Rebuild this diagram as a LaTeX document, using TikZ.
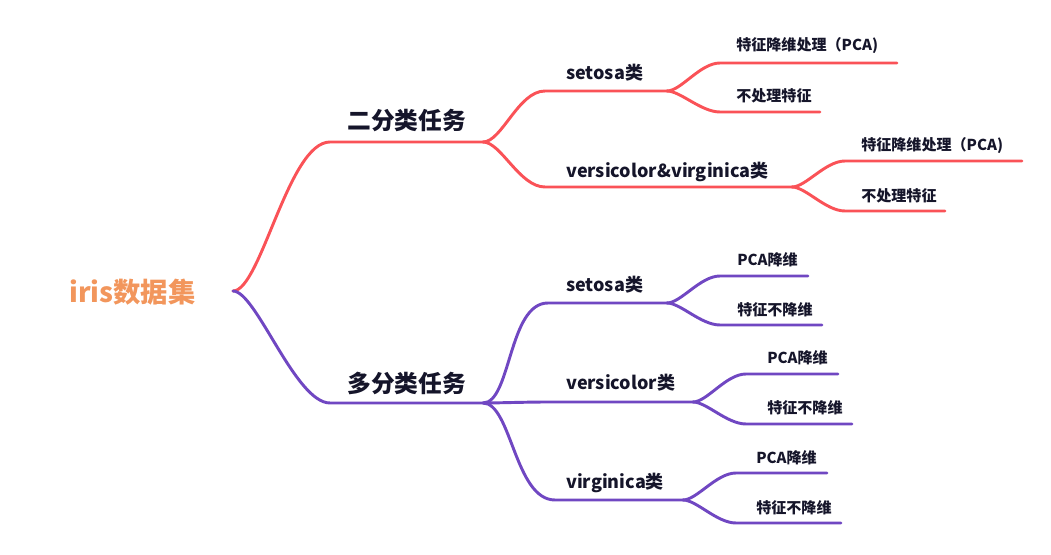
\documentclass[tikz,border=0pt]{standalone}
\usepackage{fontspec}
\setmainfont{Noto Sans CJK SC}
\usepackage{xcolor}
\usepackage{tikz}
\usetikzlibrary{positioning, calc}
\definecolor{mmred}{HTML}{FA5257}
\definecolor{mmpurple}{HTML}{7047C2}
\definecolor{mmorange}{HTML}{F2965C}
\definecolor{mmtext}{HTML}{15152A}

\begin{document}
\begin{tikzpicture}[
    x=0.75pt, y=-0.75pt,
    rootlabel/.style={anchor=west, inner sep=0pt, text=mmorange, font=\fontsize{20.5}{24}\selectfont\bfseries},
    toplabel/.style={anchor=west, inner sep=0pt, text=mmtext, font=\fontsize{17.8}{20}\selectfont\bfseries},
    midlabel/.style={anchor=west, inner sep=0pt, text=mmtext, font=\fontsize{13.5}{16}\selectfont\bfseries},
    leaflabel/.style={anchor=west, inner sep=0pt, text=mmtext, font=\fontsize{11.3}{13}\selectfont\bfseries},
    branch/.style={line width=2.2pt, line cap=round, color=#1},
    rootcurve/.style={out=0, in=180, out looseness=0.4, in looseness=0.6},
    subcurve/.style={out=0, in=180, out looseness=0.6, in looseness=0.85}
]
\useasboundingbox (0,0) rectangle (1051,555);

\node[rootlabel] (root) at (69,292) {iris数据集};
\coordinate (rootR) at (233,291);

% binary task
\node[toplabel] (bin) at (347,121) {二分类任务};
\coordinate (binL) at (330,142);
\coordinate (binR) at (483,142);
\node[midlabel] (rset) at (566,73) {setosa类};
\coordinate (rsetL) at (545,91);
\coordinate (rsetR) at (667,91);
\node[midlabel] (rvv) at (566,172) {versicolor\&virginica类};
\coordinate (rvvL) at (545,187);
\coordinate (rvvR) at (792,187);
\node[leaflabel] (rset1) at (736,46) {特征降维处理（PCA)};
\coordinate (rset1L) at (720,63);
\coordinate (rset1R) at (897,63);
\node[leaflabel] (rset2) at (736,96) {不处理特征};
\coordinate (rset2L) at (720,112);
\coordinate (rset2R) at (820,112);
\node[leaflabel] (rvv1) at (861,146) {特征降维处理（PCA)};
\coordinate (rvv1L) at (845,161);
\coordinate (rvv1R) at (1022,161);
\node[leaflabel] (rvv2) at (861,196) {不处理特征};
\coordinate (rvv2L) at (845,211);
\coordinate (rvv2R) at (945,211);

% multi-class task
\node[toplabel] (mul) at (347,383) {多分类任务};
\coordinate (mulL) at (330,403);
\coordinate (mulR) at (483,403);
\node[midlabel] (pset) at (566,285) {setosa类};
\coordinate (psetL) at (548,303);
\coordinate (psetR) at (667,303);
\node[midlabel] (pver) at (566,383) {versicolor类};
\coordinate (pverL) at (548,402);
\coordinate (pverR) at (693,402);
\node[midlabel] (pvir) at (566,483) {virginica类};
\coordinate (pvirL) at (555,500);
\coordinate (pvirR) at (683,500);
\node[leaflabel] (pset1) at (737,260) {PCA降维};
\coordinate (pset1L) at (720,276);
\coordinate (pset1R) at (808,276);
\node[leaflabel] (pset2) at (737,310) {特征不降维};
\coordinate (pset2L) at (720,325);
\coordinate (pset2R) at (822,325);
\node[leaflabel] (pver1) at (767,358) {PCA降维};
\coordinate (pver1L) at (746,374);
\coordinate (pver1R) at (838,374);
\node[leaflabel] (pver2) at (767,408) {特征不降维};
\coordinate (pver2L) at (746,424);
\coordinate (pver2R) at (852,424);
\node[leaflabel] (pvir1) at (756,458) {PCA降维};
\coordinate (pvir1L) at (736,473);
\coordinate (pvir1R) at (827,473);
\node[leaflabel] (pvir2) at (756,508) {特征不降维};
\coordinate (pvir2L) at (736,523);
\coordinate (pvir2R) at (841,523);

\draw[branch=mmred] (rootR) to[rootcurve] (binL) -- (binR);
\draw[branch=mmred] (binR) to[subcurve] (rsetL) -- (rsetR);
\draw[branch=mmred] (binR) to[subcurve] (rvvL) -- (rvvR);
\draw[branch=mmred] (rsetR) to[subcurve] (rset1L) -- (rset1R);
\draw[branch=mmred] (rsetR) to[subcurve] (rset2L) -- (rset2R);
\draw[branch=mmred] (rvvR) to[subcurve] (rvv1L) -- (rvv1R);
\draw[branch=mmred] (rvvR) to[subcurve] (rvv2L) -- (rvv2R);

\draw[branch=mmpurple] (rootR) to[rootcurve] (mulL) -- (mulR);
\draw[branch=mmpurple] (mulR) to[subcurve] (psetL) -- (psetR);
\draw[branch=mmpurple] (mulR) to[subcurve] (pverL) -- (pverR);
\draw[branch=mmpurple] (mulR) to[subcurve] (pvirL) -- (pvirR);
\draw[branch=mmpurple] (psetR) to[subcurve] (pset1L) -- (pset1R);
\draw[branch=mmpurple] (psetR) to[subcurve] (pset2L) -- (pset2R);
\draw[branch=mmpurple] (pverR) to[subcurve] (pver1L) -- (pver1R);
\draw[branch=mmpurple] (pverR) to[subcurve] (pver2L) -- (pver2R);
\draw[branch=mmpurple] (pvirR) to[subcurve] (pvir1L) -- (pvir1R);
\draw[branch=mmpurple] (pvirR) to[subcurve] (pvir2L) -- (pvir2R);
\end{tikzpicture}
\end{document}
